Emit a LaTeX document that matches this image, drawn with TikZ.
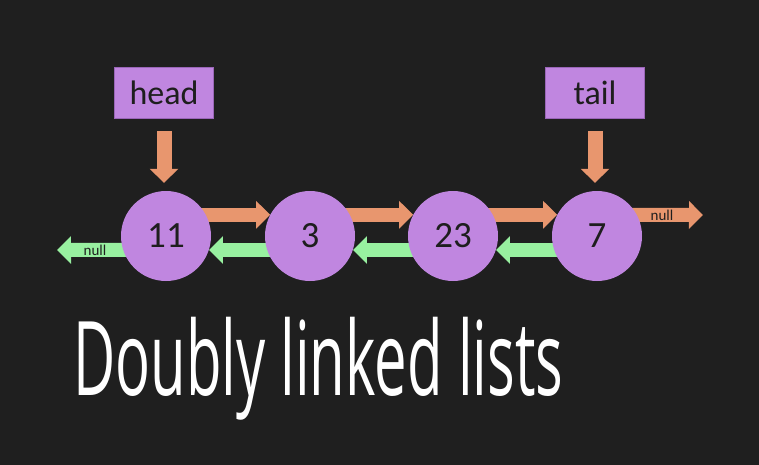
\documentclass[tikz,border=0pt]{standalone}
\usepackage{fontspec}
\setmainfont{Carlito}
\newfontfamily\handfont{Open Sans}
\usetikzlibrary{arrows.meta}
\pgfdeclarelayer{canvas}
\pgfdeclarelayer{background}
\pgfsetlayers{canvas,background,main}
\definecolor{bgc}{HTML}{1F1F1F}
\definecolor{purp}{HTML}{C086E0}
\definecolor{purpd}{HTML}{9A66B8}
\definecolor{orng}{HTML}{E8966E}
\definecolor{grn}{HTML}{98F0A0}
\definecolor{ink}{HTML}{1E1E1E}
\tikzset{
  listnode/.style={circle, fill=purp, minimum size=90pt, inner sep=0pt, text=ink, font=\fontsize{37}{37}\selectfont},
  ptrbox/.style={rectangle, fill=purp, draw=purpd, line width=0.8pt, minimum width=99pt, minimum height=51pt, inner sep=0pt, text=ink, font=\fontsize{34}{34}\selectfont},
  fwd/.style={draw=orng, line width=14pt, -{Triangle[width=27pt,length=14pt]}},
  bwd/.style={draw=grn, line width=14pt, -{Triangle[width=27pt,length=14pt]}},
  downptr/.style={draw=orng, line width=15pt, -{Triangle[width=28pt,length=14pt]}},
  nulltxt/.style={font=\fontsize{15}{15}\selectfont, text=ink, inner sep=0pt}
}
\begin{document}
\begin{tikzpicture}[x=1pt,y=-1pt]
\begin{pgfonlayer}{canvas}
\fill[bgc] (0,0) rectangle (759,465);
\end{pgfonlayer}
\useasboundingbox (0,0) rectangle (759,465);
% nodes
\node[listnode] (n11) at (166,236) {11};
\node[listnode] (n3) at (310,236) {3};
\node[listnode] (n23) at (453,236) {23};
\node[listnode] (n7) at (597,236) {7};
\node[ptrbox] (head) at (164,92.5) {head};
\node[ptrbox] (tail) at (595,92.5) {tail};
\coordinate (nullL) at (57,250);
\coordinate (nullR) at (703,215);
\begin{pgfonlayer}{background}
% forward links
\draw[fwd] ([xshift=-12pt]n11.28) -- (n3.152);
\draw[fwd] ([xshift=-12pt]n3.28) -- (n23.152);
\draw[fwd] ([xshift=-12pt]n23.28) -- (n7.152);
\draw[fwd] ([xshift=-12pt]n7.28) -- (nullR);
% backward links
\draw[bwd] ([xshift=12pt]n3.198) -- (n11.-18);
\draw[bwd] ([xshift=12pt]n23.198) -- (n3.-18);
\draw[bwd] ([xshift=12pt]n7.198) -- (n23.-18);
\draw[bwd] ([xshift=12pt]n11.198) -- (nullL);
\end{pgfonlayer}
% pointers
\draw[downptr] ([yshift=-13pt]head.south) -- ([yshift=8pt]head.south |- n11.north);
\draw[downptr] ([yshift=-13pt]tail.south) -- ([yshift=8pt]tail.south |- n7.north);
% null labels
\node[nulltxt] (nl) at (95,250) {null};
\node[nulltxt] (nr) at (662,215) {null};
% title
\node[anchor=north west, inner sep=0pt, text=white] (title) at (73,317)
  {\resizebox*{490pt}{103pt}{\handfont Doubly linked lists}};
\end{tikzpicture}
\end{document}
